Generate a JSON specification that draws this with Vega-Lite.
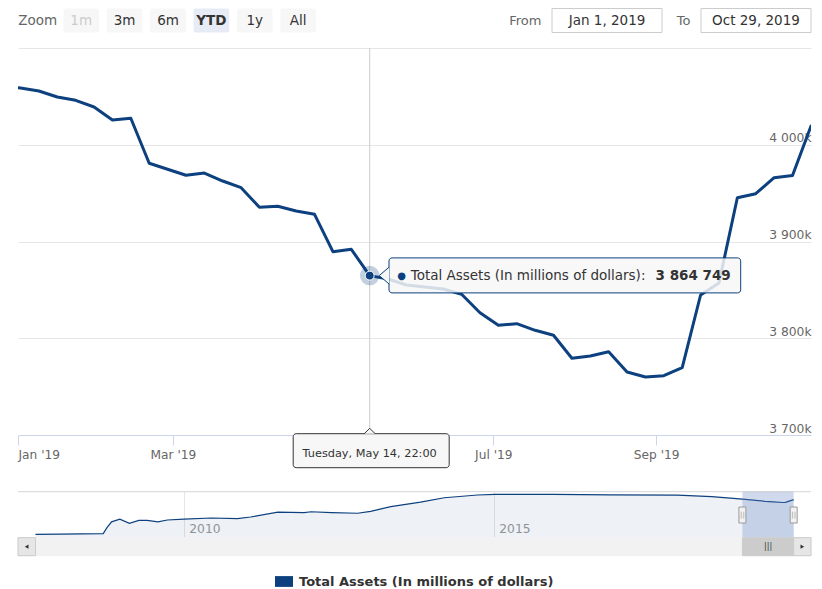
{
  "$schema": "https://vega.github.io/schema/vega-lite/v6.json",
  "background": "#ffffff",
  "padding": {"left": 17, "top": 7.5, "right": 12, "bottom": 0},
  "config": {
    "font": "DejaVu Sans",
    "view": {"stroke": null},
    "axis": {"labelFont": "DejaVu Sans", "titleFont": "DejaVu Sans"},
    "text": {"font": "DejaVu Sans"},
    "legend": {
      "orient": "bottom",
      "offset": 16,
      "padding": 0,
      "labelFont": "DejaVu Sans",
      "labelFontSize": 13,
      "labelFontWeight": "bold",
      "labelColor": "#333333",
      "labelOffset": 6,
      "labelLimit": 500,
      "symbolType": "M-1,-0.6H1V0.6H-1Z",
      "symbolSize": 324,
      "symbolStrokeWidth": 0,
      "symbolFillColor": "#0c407e",
      "layout": {"bottom": {"anchor": "middle"}}
    }
  },
  "datasets": {
    "buttons": [
      {"label": "Zoom"}, {"label": "1m"}, {"label": "3m"}, {"label": "6m"},
      {"label": "YTD"}, {"label": "1y"}, {"label": "All"}
    ],
    "inputs": [
      {"key": "from", "label": "From", "value": "Jan 1, 2019"},
      {"key": "to", "label": "To", "value": "Oct 29, 2019"}
    ],
    "main": [
      {"date": "2018-12-25T23:00:00Z", "value": 4061000},
      {"date": "2019-01-01T23:00:00Z", "value": 4058660},
      {"date": "2019-01-08T23:00:00Z", "value": 4055560},
      {"date": "2019-01-15T23:00:00Z", "value": 4049360},
      {"date": "2019-01-22T23:00:00Z", "value": 4045950},
      {"date": "2019-01-29T23:00:00Z", "value": 4039020},
      {"date": "2019-02-05T23:00:00Z", "value": 4025580},
      {"date": "2019-02-12T23:00:00Z", "value": 4027340},
      {"date": "2019-02-19T23:00:00Z", "value": 3980830},
      {"date": "2019-02-26T23:00:00Z", "value": 3974630},
      {"date": "2019-03-05T23:00:00Z", "value": 3968430},
      {"date": "2019-03-12T23:00:00Z", "value": 3970800},
      {"date": "2019-03-19T23:00:00Z", "value": 3962530},
      {"date": "2019-03-26T23:00:00Z", "value": 3955610},
      {"date": "2019-04-02T22:00:00Z", "value": 3935350},
      {"date": "2019-04-09T22:00:00Z", "value": 3936380},
      {"date": "2019-04-16T22:00:00Z", "value": 3931530},
      {"date": "2019-04-23T22:00:00Z", "value": 3928120},
      {"date": "2019-04-30T22:00:00Z", "value": 3889460},
      {"date": "2019-05-07T22:00:00Z", "value": 3891940},
      {"date": "2019-05-14T22:00:00Z", "value": 3864749},
      {"date": "2019-05-21T22:00:00Z", "value": 3861240},
      {"date": "2019-05-28T22:00:00Z", "value": 3855040},
      {"date": "2019-06-04T22:00:00Z", "value": 3852970},
      {"date": "2019-06-11T22:00:00Z", "value": 3850910},
      {"date": "2019-06-18T22:00:00Z", "value": 3845430},
      {"date": "2019-06-25T22:00:00Z", "value": 3826410},
      {"date": "2019-07-02T22:00:00Z", "value": 3813390},
      {"date": "2019-07-09T22:00:00Z", "value": 3815040},
      {"date": "2019-07-16T22:00:00Z", "value": 3808220},
      {"date": "2019-07-23T22:00:00Z", "value": 3803050},
      {"date": "2019-07-30T22:00:00Z", "value": 3779280},
      {"date": "2019-08-06T22:00:00Z", "value": 3781650},
      {"date": "2019-08-13T22:00:00Z", "value": 3786100},
      {"date": "2019-08-20T22:00:00Z", "value": 3765120},
      {"date": "2019-08-27T22:00:00Z", "value": 3759950},
      {"date": "2019-09-03T22:00:00Z", "value": 3761290},
      {"date": "2019-09-10T22:00:00Z", "value": 3769560},
      {"date": "2019-09-17T22:00:00Z", "value": 3844700},
      {"date": "2019-09-24T22:00:00Z", "value": 3857110},
      {"date": "2019-10-01T22:00:00Z", "value": 3945270},
      {"date": "2019-10-08T22:00:00Z", "value": 3949410},
      {"date": "2019-10-15T22:00:00Z", "value": 3965950},
      {"date": "2019-10-22T22:00:00Z", "value": 3968220},
      {"date": "2019-10-29T23:00:00Z", "value": 4019380}
    ],
    "nav": [
      {"date": "2007-08-08T00:00:00Z", "value": 870000},
      {"date": "2008-01-02T00:00:00Z", "value": 890000},
      {"date": "2008-09-10T00:00:00Z", "value": 930000},
      {"date": "2008-10-01T00:00:00Z", "value": 1450000},
      {"date": "2008-10-29T00:00:00Z", "value": 2000000},
      {"date": "2008-12-17T00:00:00Z", "value": 2250000},
      {"date": "2009-02-11T00:00:00Z", "value": 1870000},
      {"date": "2009-04-08T00:00:00Z", "value": 2140000},
      {"date": "2009-05-27T00:00:00Z", "value": 2140000},
      {"date": "2009-07-29T00:00:00Z", "value": 1990000},
      {"date": "2009-09-23T00:00:00Z", "value": 2170000},
      {"date": "2009-12-30T00:00:00Z", "value": 2240000},
      {"date": "2010-06-09T00:00:00Z", "value": 2350000},
      {"date": "2010-11-10T00:00:00Z", "value": 2290000},
      {"date": "2011-01-26T00:00:00Z", "value": 2440000},
      {"date": "2011-07-06T00:00:00Z", "value": 2890000},
      {"date": "2011-12-07T00:00:00Z", "value": 2830000},
      {"date": "2012-01-18T00:00:00Z", "value": 2920000},
      {"date": "2012-05-16T00:00:00Z", "value": 2840000},
      {"date": "2012-10-17T00:00:00Z", "value": 2780000},
      {"date": "2013-01-02T00:00:00Z", "value": 2960000},
      {"date": "2013-05-01T00:00:00Z", "value": 3380000},
      {"date": "2013-10-23T00:00:00Z", "value": 3800000},
      {"date": "2014-03-12T00:00:00Z", "value": 4190000},
      {"date": "2014-09-24T00:00:00Z", "value": 4440000},
      {"date": "2015-01-07T00:00:00Z", "value": 4500000},
      {"date": "2015-12-09T00:00:00Z", "value": 4490000},
      {"date": "2016-11-16T00:00:00Z", "value": 4450000},
      {"date": "2017-12-13T00:00:00Z", "value": 4420000},
      {"date": "2018-07-04T00:00:00Z", "value": 4290000},
      {"date": "2019-01-01T23:00:00Z", "value": 4058660},
      {"date": "2019-03-05T23:00:00Z", "value": 3968430},
      {"date": "2019-05-14T22:00:00Z", "value": 3864749},
      {"date": "2019-07-02T22:00:00Z", "value": 3813390},
      {"date": "2019-08-27T22:00:00Z", "value": 3759950},
      {"date": "2019-09-10T22:00:00Z", "value": 3769560},
      {"date": "2019-10-29T23:00:00Z", "value": 4019380}
    ]
  },
  "spacing": 39.5,
  "bounds": "flush",
  "vconcat": [
    {
      "spacing": 234,
      "bounds": "flush",
      "hconcat": [
        {
          "width": 300,
          "height": 24,
          "data": {"name": "buttons"},
          "encoding": {
            "x": {"field": "label", "type": "nominal", "scale": {"domain": ["Zoom", "1m", "3m", "6m", "YTD", "1y", "All"], "paddingInner": 0.18, "paddingOuter": 0.046}, "axis": null}
          },
          "layer": [
            {
              "transform": [{"filter": "datum.label != 'Zoom'"}],
              "mark": {"type": "rect", "cornerRadius": 2},
              "encoding": {
                "fill": {"condition": {"test": "datum.label == 'YTD'", "value": "#e6ebf5"}, "value": "#f7f7f7"}
              }
            },
            {
              "transform": [{"filter": "datum.label != 'YTD'"}],
              "mark": {"type": "text", "fontSize": 13.5},
              "encoding": {
                "text": {"field": "label"},
                "color": {"condition": [{"test": "datum.label == '1m'", "value": "#cccccc"}, {"test": "datum.label == 'Zoom'", "value": "#666666"}], "value": "#333333"}
              }
            },
            {
              "transform": [{"filter": "datum.label == 'YTD'"}],
              "mark": {"type": "text", "fontSize": 13.5, "fontWeight": "bold", "color": "#333333"},
              "encoding": {"text": {"field": "label"}}
            }
          ]
        },
        {
          "width": 259,
          "height": 24,
          "data": {"name": "inputs"},
          "encoding": {
            "x": {"field": "key", "type": "nominal", "scale": {"domain": ["from", "to"], "paddingInner": 0.2617, "paddingOuter": 0}, "axis": null}
          },
          "layer": [
            {"mark": {"type": "rect", "fill": "#ffffff", "stroke": "#cccccc", "strokeWidth": 1}},
            {"mark": {"type": "text", "fontSize": 13.5, "color": "#333333"}, "encoding": {"text": {"field": "value"}}},
            {"mark": {"type": "text", "fontSize": 13, "color": "#666666", "align": "right", "dx": -65.5}, "encoding": {"text": {"field": "label"}}}
          ]
        }
      ]
    },
    {
      "spacing": 56.7,
      "bounds": "flush",
      "vconcat": [
        {
          "width": 793,
          "height": 387,
          "data": {"name": "main"},
          "encoding": {
            "x": {
              "field": "date",
              "type": "temporal",
              "scale": {"type": "utc", "domain": [{"year": 2019, "month": 1, "date": 1, "utc": true}, {"year": 2019, "month": 10, "date": 29, "hours": 23, "utc": true}]},
              "axis": {
                "title": null,
                "grid": false,
                "values": [
                  {"year": 2019, "month": 1, "date": 1, "utc": true},
                  {"year": 2019, "month": 3, "date": 1, "utc": true},
                  {"year": 2019, "month": 7, "date": 1, "utc": true},
                  {"year": 2019, "month": 9, "date": 1, "utc": true}
                ],
                "labelExpr": "utcFormat(datum.value, \"%b '%y\")",
                "domainColor": "#ccd6eb",
                "tickColor": "#ccd6eb",
                "tickSize": 10,
                "labelPadding": 3,
                "labelColor": "#666666",
                "labelFontSize": 12.2,
                "labelFlush": true,
                "labelOverlap": false,
                "zindex": 0
              }
            },
            "y": {
              "field": "value",
              "type": "quantitative",
              "scale": {"domain": [3700000, 4100000], "nice": false, "zero": false},
              "axis": {
                "orient": "right",
                "title": null,
                "values": [3700000, 3800000, 3900000, 4000000, 4100000],
                "domain": false,
                "ticks": false,
                "tickSize": 0,
                "grid": true,
                "gridColor": "#e6e6e6",
                "labelAlign": "right",
                "labelBaseline": "alphabetic",
                "labelPadding": 0,
                "labelOffset": -3,
                "labelColor": "#666666",
                "labelFontSize": 12.3,
                "labelExpr": "datum.value >= 4100000 ? '' : replace(format(datum.value / 1000, ',d'), ',', ' ') + 'k'",
                "zindex": 0
              }
            }
          },
          "layer": [
            {
              "transform": [{"filter": {"field": "date", "equal": {"year": 2019, "month": 5, "date": 14, "hours": 22, "utc": true}}}],
              "mark": {"type": "rule", "color": "#cccccc", "strokeWidth": 1},
              "encoding": {"y": {"datum": 4100000}, "y2": {"datum": 3700000}}
            },
            {
              "mark": {"type": "line", "color": "#0c407e", "strokeWidth": 3, "clip": true, "strokeJoin": "round", "strokeCap": "round"}
            },
            {
              "transform": [
                {"filter": {"field": "date", "equal": {"year": 2019, "month": 5, "date": 14, "hours": 22, "utc": true}}},
                {"calculate": "replace(format(datum.value, ',d'), regexp(',', 'g'), ' ')", "as": "value_label"},
                {"calculate": "utcFormat(datum.date, '%A, %b %e, %H:%M')", "as": "date_label"}
              ],
              "layer": [
                {"mark": {"type": "point", "filled": true, "size": 380, "opacity": 0.25, "color": "#0c407e", "strokeWidth": 0}},
                {
                  "mark": {"type": "point", "filled": true, "size": 80, "opacity": 1, "stroke": "#ffffff", "strokeWidth": 1},
                  "encoding": {
                    "color": {"datum": "Total Assets (In millions of dollars)", "type": "nominal", "scale": {"range": ["#0c407e"]}, "legend": {"title": null}}
                  }
                },
                {
                  "mark": {"type": "rect", "fill": "#f7f7f7", "fillOpacity": 0.85, "stroke": "#0c407e", "strokeWidth": 1, "cornerRadius": 3, "xOffset": 19.3, "x2Offset": 371, "yOffset": -17.7, "y2Offset": 17.3},
                  "encoding": {"x2": {"field": "date"}, "y2": {"field": "value"}}
                },
                {
                  "mark": {"type": "point", "shape": "M1,-0.85L0,0L1,0.85", "size": 400, "filled": true, "fill": "#f7f7f7", "stroke": "#0c407e", "strokeWidth": 1, "opacity": 1, "xOffset": 9.5}
                },
                {
                  "mark": {"type": "text", "text": "●", "fontSize": 10, "color": "#0c407e", "align": "center", "baseline": "middle", "dx": 32}
                },
                {
                  "mark": {"type": "text", "text": "Total Assets (In millions of dollars): ", "fontSize": 13.5, "color": "#333333", "align": "left", "baseline": "middle", "dx": 41}
                },
                {
                  "mark": {"type": "text", "fontSize": 13.5, "fontWeight": "bold", "color": "#333333", "align": "right", "baseline": "middle", "dx": 361},
                  "encoding": {"text": {"field": "value_label"}}
                },
                {
                  "mark": {"type": "rect", "fill": "#f7f7f7", "fillOpacity": 0.95, "stroke": "#333333", "strokeWidth": 1, "cornerRadius": 3, "xOffset": -76.5, "x2Offset": 79.5, "yOffset": -1.3, "y2Offset": 32.7},
                  "encoding": {"x2": {"field": "date"}, "y": {"datum": 3700000}, "y2": {"datum": 3700000}}
                },
                {
                  "mark": {"type": "point", "shape": "M-1,0.5L0,-0.5L1,0.5", "size": 121, "filled": true, "fill": "#f7f7f7", "stroke": "#333333", "strokeWidth": 1, "opacity": 1, "yOffset": -4},
                  "encoding": {"y": {"datum": 3700000}}
                },
                {
                  "mark": {"type": "text", "fontSize": 11.3, "color": "#333333", "align": "center", "baseline": "alphabetic", "dy": 21.7, "dx": 0},
                  "encoding": {
                    "y": {"datum": 3700000},
                    "text": {"field": "date_label"}
                  }
                }
              ]
            }
          ]
        },
        {
          "width": 793,
          "height": 64,
          "layer": [
            {
              "data": {"name": "nav"},
              "mark": {"type": "area", "color": "#0c407e", "fillOpacity": 0.07},
              "encoding": {
                "x": {
                  "field": "date",
                  "type": "temporal",
                  "scale": {"type": "utc", "domain": [{"year": 2007, "month": 4, "date": 27, "utc": true}, {"year": 2020, "month": 2, "date": 9, "utc": true}]},
                  "axis": {
                    "title": null,
                    "values": [{"year": 2010, "month": 1, "date": 1, "utc": true}, {"year": 2015, "month": 1, "date": 1, "utc": true}],
                    "labelExpr": "utcFormat(datum.value, '%Y')",
                    "grid": true,
                    "gridColor": "#e6e6e6",
                    "domain": false,
                    "ticks": false,
                    "tickSize": 0,
                    "labelPadding": -23,
                    "labelBaseline": "alphabetic",
                    "labelAlign": "left",
                    "labelOffset": 4.4,
                    "labelFlush": false,
                    "labelColor": "#999999",
                    "labelFontSize": 12.3
                  }
                },
                "y": {"field": "value", "type": "quantitative", "scale": {"domain": [-1076000, 4740000], "nice": false, "zero": false}, "axis": null},
                "y2": {"datum": 560000}
              }
            },
            {
              "data": {"name": "nav"},
              "mark": {"type": "line", "color": "#0c407e", "strokeWidth": 1.2},
              "encoding": {
                "x": {"field": "date", "type": "temporal"},
                "y": {"field": "value", "type": "quantitative"}
              }
            },
            {
              "data": {"values": [{}]},
              "mark": {"type": "rule", "color": "#d6d6d6", "strokeWidth": 1},
              "encoding": {
                "x": {"datum": {"year": 2007, "month": 4, "date": 27, "utc": true}},
                "x2": {"datum": {"year": 2020, "month": 2, "date": 9, "utc": true}},
                "y": {"datum": 4740000}
              }
            },
            {
              "data": {"values": [{}]},
              "mark": {"type": "rect", "fill": "#6685c2", "fillOpacity": 0.3},
              "encoding": {
                "x": {"datum": {"year": 2019, "month": 1, "date": 1, "utc": true}},
                "x2": {"datum": {"year": 2019, "month": 10, "date": 29, "hours": 23, "utc": true}},
                "y": {"datum": 560000},
                "y2": {"datum": 4740000}
              }
            },
            {
              "data": {"values": [{}]},
              "mark": {"type": "rect", "fill": "#f2f2f2", "stroke": "#f2f2f2", "strokeWidth": 1},
              "encoding": {
                "x": {"datum": {"year": 2007, "month": 4, "date": 27, "utc": true}},
                "x2": {"datum": {"year": 2020, "month": 2, "date": 9, "utc": true}},
                "y": {"datum": -1076000},
                "y2": {"datum": 560000}
              }
            },
            {
              "data": {"values": [{}]},
              "mark": {"type": "rect", "fill": "#cccccc", "stroke": "#cccccc", "strokeWidth": 1},
              "encoding": {
                "x": {"datum": {"year": 2019, "month": 1, "date": 1, "utc": true}},
                "x2": {"datum": {"year": 2019, "month": 10, "date": 29, "hours": 23, "utc": true}},
                "y": {"datum": -1076000},
                "y2": {"datum": 560000}
              }
            },
            {
              "data": {"values": [{}]},
              "mark": {"type": "rect", "fill": "#e6e6e6", "stroke": "#cccccc", "strokeWidth": 1},
              "encoding": {
                "x": {"datum": {"year": 2007, "month": 4, "date": 27, "utc": true}},
                "x2": {"datum": {"year": 2007, "month": 8, "date": 8, "utc": true}},
                "y": {"datum": -1076000},
                "y2": {"datum": 560000}
              }
            },
            {
              "data": {"values": [{}]},
              "mark": {"type": "rect", "fill": "#e6e6e6", "stroke": "#cccccc", "strokeWidth": 1},
              "encoding": {
                "x": {"datum": {"year": 2019, "month": 10, "date": 29, "hours": 23, "utc": true}},
                "x2": {"datum": {"year": 2020, "month": 2, "date": 9, "utc": true}},
                "y": {"datum": -1076000},
                "y2": {"datum": 560000}
              }
            },
            {
              "data": {"values": [{}]},
              "mark": {"type": "point", "shape": "triangle-left", "size": 18, "filled": true, "color": "#333333", "opacity": 1},
              "encoding": {
                "x": {"datum": {"year": 2007, "month": 6, "date": 17, "utc": true}},
                "y": {"datum": -258000}
              }
            },
            {
              "data": {"values": [{}]},
              "mark": {"type": "point", "shape": "triangle-right", "size": 18, "filled": true, "color": "#333333", "opacity": 1},
              "encoding": {
                "x": {"datum": {"year": 2019, "month": 12, "date": 20, "utc": true}},
                "y": {"datum": -258000}
              }
            },
            {
              "data": {"values": [{}]},
              "mark": {"type": "text", "text": "|||", "fontSize": 8, "color": "#333333", "align": "center", "baseline": "middle"},
              "encoding": {
                "x": {"datum": {"year": 2019, "month": 6, "date": 1, "utc": true}},
                "y": {"datum": -258000}
              }
            },
            {
              "data": {"values": [{}]},
              "mark": {"type": "rect", "fill": "#f2f2f2", "stroke": "#999999", "strokeWidth": 1, "xOffset": -3.5, "x2Offset": 3.5, "yOffset": -8, "y2Offset": 8},
              "encoding": {
                "x": {"datum": {"year": 2019, "month": 1, "date": 1, "utc": true}},
                "x2": {"datum": {"year": 2019, "month": 1, "date": 1, "utc": true}},
                "y": {"datum": 2620000},
                "y2": {"datum": 2620000}
              }
            },
            {
              "data": {"values": [{}]},
              "mark": {"type": "rect", "fill": "#f2f2f2", "stroke": "#999999", "strokeWidth": 1, "xOffset": -3.5, "x2Offset": 3.5, "yOffset": -8, "y2Offset": 8},
              "encoding": {
                "x": {"datum": {"year": 2019, "month": 10, "date": 29, "hours": 23, "utc": true}},
                "x2": {"datum": {"year": 2019, "month": 10, "date": 29, "hours": 23, "utc": true}},
                "y": {"datum": 2620000},
                "y2": {"datum": 2620000}
              }
            },
            {
              "data": {"values": [{}]},
              "mark": {"type": "text", "text": "||", "fontSize": 7, "color": "#999999", "align": "center", "baseline": "middle"},
              "encoding": {
                "x": {"datum": {"year": 2019, "month": 1, "date": 1, "utc": true}},
                "y": {"datum": 2620000}
              }
            },
            {
              "data": {"values": [{}]},
              "mark": {"type": "text", "text": "||", "fontSize": 7, "color": "#999999", "align": "center", "baseline": "middle"},
              "encoding": {
                "x": {"datum": {"year": 2019, "month": 10, "date": 29, "hours": 23, "utc": true}},
                "y": {"datum": 2620000}
              }
            }
          ]
        }
      ]
    }
  ]
}
